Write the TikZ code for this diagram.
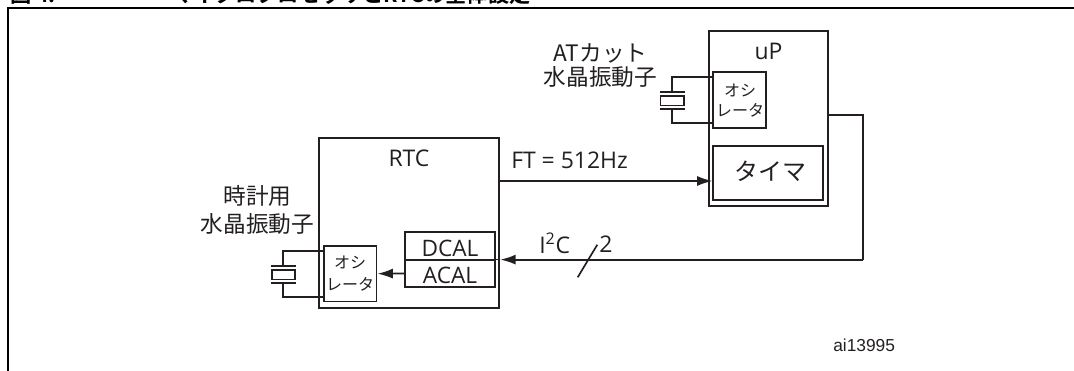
\documentclass[tikz,border=0pt]{standalone}
\usepackage{fontspec}
\setmainfont{Open Sans}
\newfontfamily\arialf{Liberation Sans}
\newfontfamily\cjk{Noto Sans CJK JP}
\newfontfamily\cjkb{Noto Sans CJK JP Bold}
\usetikzlibrary{arrows.meta}
\definecolor{ink}{HTML}{231F20}
\tikzset{
 x=0.75pt,y=-0.75pt,
 lbl/.style={inner sep=0pt,text=ink,font=\fontsize{17.2}{20}\selectfont},
 jp/.style={inner sep=0pt,text=ink,align=center,font=\cjk\fontsize{17}{21}\selectfont},
 jpsmall/.style={inner sep=0pt,text=ink,font=\cjk\fontsize{12}{14}\selectfont},
 boxa/.style={draw=ink,line width=1.35pt,inner sep=0pt},
 boxb/.style={draw=ink,line width=1.25pt,inner sep=0pt},
 wire/.style={draw=ink,line width=1.25pt},
 arr/.style={wire,-{Latex[length=11.5pt,width=7.5pt]}},
 frameline/.style={draw=black,line width=1.6pt},
 titlefont/.style={anchor=base west,inner sep=0pt,font=\cjkb\fontsize{15.9}{16}\selectfont},
}
\begin{document}
\begin{tikzpicture}
\useasboundingbox (0,0) rectangle (1074,371);
\begin{scope}
\clip (0,0) rectangle (1074,371);
\node[titlefont] (figno) at (10,2.5) {図 4.};
\node[titlefont] (title) at (172,2.5) {マイクロプロセッサとRTCの全体設定};
\end{scope}
\coordinate (fa) at (8,371);
\coordinate (fb) at (8,8);
\coordinate (fc) at (1074,8);
\draw[frameline] (fa) -- (fb) -- (fc);
% uP
\node[boxa,minimum width=119*0.75pt,minimum height=175.3*0.75pt] (up) at (768.2,118.4) {};
\node[boxa,minimum width=110*0.75pt,minimum height=54.6*0.75pt] (timer) at (768.3,173) {};
\node[boxb,minimum width=52.7*0.75pt,minimum height=55.4*0.75pt] (osc1) at (739.6,100) {};
\node[lbl,anchor=base] (uplabel) at (768.5,59.3) {uP};
\node[jp,font=\cjk\fontsize{18}{21}\selectfont] (timerlabel) at (770.8,171.7) {タイマ};
\node[jpsmall] (osc1a) at (740,90.5) {オシ};
\node[jpsmall] (osc1b) at (740,110.3) {レータ};
\node[jp,font=\cjk\fontsize{17}{17.5}\selectfont] (atlabel) at (600.5,65.5) {ATカット\\水晶振動子};
% crystal 1
\node[boxb,minimum width=23.3*0.75pt,minimum height=9.7*0.75pt] (xt1) at (672.3,100.8) {};
\coordinate (p1a) at (660,92.3); \coordinate (p1b) at (685,92.3);
\coordinate (p1c) at (660,109); \coordinate (p1d) at (685,109);
\coordinate (w1a) at (672.3,92.3); \coordinate (w1b) at (672.3,77);
\coordinate (w1c) at (713.3,77);
\coordinate (w1d) at (672.3,109); \coordinate (w1e) at (672.3,123);
\coordinate (w1f) at (713.3,123);
\draw[wire] (p1a) -- (p1b);
\draw[wire] (p1c) -- (p1d);
\draw[wire] (w1a) -- (w1b) -- (w1c);
\draw[wire] (w1d) -- (w1e) -- (w1f);
% RTC
\node[boxa,minimum width=180.3*0.75pt,minimum height=170*0.75pt] (rtc) at (409.2,222.7) {};
\node[lbl,anchor=base] (rtclabel) at (409,166.7) {RTC};
\node[boxb,minimum width=90*0.75pt,minimum height=27.4*0.75pt] (dcal) at (450,246) {};
\node[boxb,minimum width=90*0.75pt,minimum height=27.6*0.75pt] (acal) at (450,273.5) {};
\node[lbl,anchor=base,font=\fontsize{17}{20}\selectfont] (dcaltext) at (450,256) {DCAL};
\node[lbl,anchor=base,font=\fontsize{17}{20}\selectfont] (acaltext) at (450,283.3) {ACAL};
\node[boxb,minimum width=52.7*0.75pt,minimum height=55.3*0.75pt] (osc2) at (350.3,273.7) {};
\node[jpsmall] (osc2a) at (350,262.5) {オシ};
\node[jpsmall] (osc2b) at (350,284) {レータ};
\node[jp] (clocklabel) at (257.5,210) {時計用\\水晶振動子};
% crystal 2
\node[boxb,minimum width=23*0.75pt,minimum height=9.3*0.75pt] (xt2) at (283.2,274.7) {};
\coordinate (p2a) at (270.7,266.3); \coordinate (p2b) at (295.7,266.3);
\coordinate (p2c) at (270.7,282.7); \coordinate (p2d) at (295.7,282.7);
\coordinate (w2a) at (282.7,266.3); \coordinate (w2b) at (282.7,250.7);
\coordinate (w2c) at (324,250.7);
\coordinate (w2d) at (282.7,282.7); \coordinate (w2e) at (282.7,296.7);
\coordinate (w2f) at (324,296.7);
\draw[wire] (p2a) -- (p2b);
\draw[wire] (p2c) -- (p2d);
\draw[wire] (w2a) -- (w2b) -- (w2c);
\draw[wire] (w2d) -- (w2e) -- (w2f);
% connectors
\draw[arr] (acal.west) -- (osc2.east);
\coordinate (ftstart) at (rtc.east |- 0,181);
\coordinate (ftend) at (timer.west |- 0,181);
\draw[arr,line width=1.1pt] (ftstart) -- (ftend);
\node[lbl,anchor=base west] (ftlabel) at (511,168.3) {FT = 512Hz};
\coordinate (bout) at (up.east |- 0,114.7);
\coordinate (bcorner) at (863,114.7);
\coordinate (bdown) at (863,259.6);
\coordinate (btip) at (rtc.east |- 0,259.6);
\draw[wire,line width=1.4pt] (bout) -- (bcorner) -- (bdown);
\draw[arr,line width=1.4pt] (bdown) -- (btip);
\draw[wire,line width=0.7pt] (btip) -- (dcal.east |- btip);
\coordinate (sa) at (577.7,277.3);
\coordinate (sb) at (597.3,244.7);
\draw[wire] (sa) -- (sb);
\node[lbl,anchor=base west] (i2c) at (539,253) {I\textsuperscript{2}C};
\node[lbl,anchor=base] (two) at (606,252.8) {2};
\node[inner sep=0pt,anchor=base west,text=ink,font=\arialf\fontsize{13}{15}\selectfont] (ai) at (833,351) {ai13995};
\end{tikzpicture}
\end{document}
